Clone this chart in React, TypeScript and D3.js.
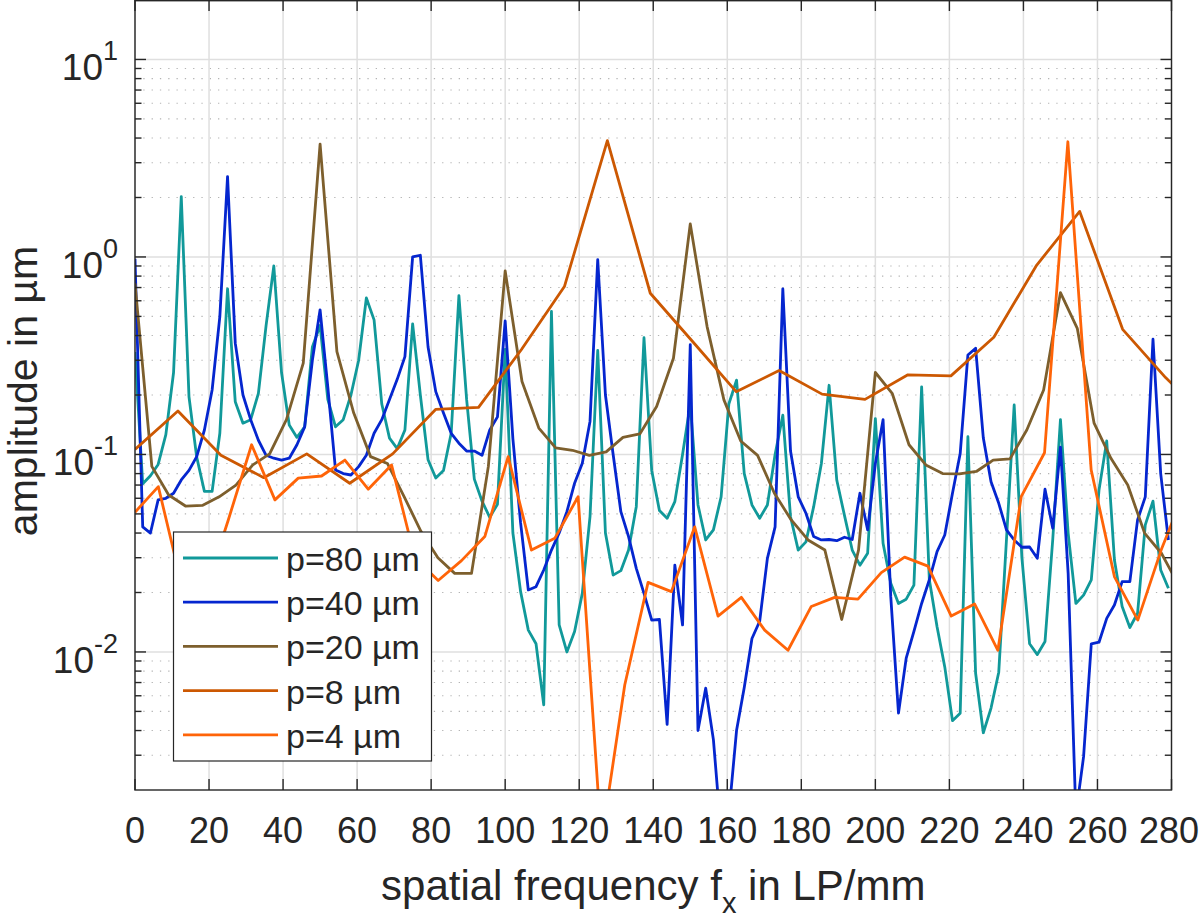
import * as d3 from 'd3';

// spectrum amplitudes, one array per pitch
const P80 = [
  0.33, 0.071, 0.078, 0.089, 0.126, 0.26, 2.02, 0.196, 0.097, 0.065,
  0.065, 0.128, 0.69, 0.185, 0.144, 0.15, 0.204, 0.45, 0.9, 0.26,
  0.141, 0.122, 0.138, 0.35, 0.45, 0.19, 0.138, 0.15, 0.2, 0.3,
  0.62, 0.48, 0.18, 0.121, 0.107, 0.133, 0.458, 0.2, 0.094, 0.076,
  0.083, 0.128, 0.637, 0.19, 0.075, 0.058, 0.048, 0.056, 0.34, 0.04,
  0.0202, 0.0129, 0.011, 0.0054, 0.53, 0.0137, 0.01, 0.0127, 0.0198, 0.0484,
  0.336, 0.04, 0.0245, 0.0258, 0.0328, 0.0544, 0.39, 0.083, 0.052, 0.0475,
  0.0577, 0.1, 0.18, 0.0555, 0.0369, 0.0415, 0.061, 0.18, 0.238, 0.08,
  0.0555, 0.0475, 0.0555, 0.1, 0.158, 0.0484, 0.0328, 0.0361, 0.0544, 0.09,
  0.224, 0.074, 0.049, 0.0328, 0.0275, 0.0316, 0.152, 0.0355, 0.0223, 0.0176,
  0.0185, 0.0218, 0.22, 0.0232, 0.0134, 0.0084, 0.00449, 0.0049, 0.123, 0.0078,
  0.0039, 0.0052, 0.0079, 0.037, 0.178, 0.03, 0.011, 0.0097, 0.0113, 0.037,
  0.15, 0.04, 0.0176, 0.0194, 0.0232, 0.066, 0.117, 0.0292, 0.017, 0.0133,
  0.0157, 0.044, 0.058, 0.026, 0.021
];

const P40 = [
  0.98, 0.043, 0.04, 0.0589, 0.06, 0.0636, 0.0743, 0.083, 0.0975, 0.133,
  0.212, 0.499, 2.55, 0.366, 0.2, 0.15, 0.118, 0.099, 0.0957, 0.0937,
  0.0957, 0.112, 0.138, 0.3, 0.54, 0.22, 0.0835, 0.08, 0.0787, 0.0868,
  0.099, 0.128, 0.15, 0.19, 0.24, 0.313, 1.0, 1.02, 0.35, 0.208,
  0.162, 0.128, 0.114, 0.104, 0.104, 0.099, 0.133, 0.155, 0.474, 0.12,
  0.045, 0.0206, 0.0214, 0.026, 0.0328, 0.04, 0.0513, 0.0715, 0.0902, 0.147,
  0.97, 0.2, 0.1, 0.0513, 0.0384, 0.0265, 0.0198, 0.0145, 0.0146, 0.0043,
  0.0275, 0.0137, 0.36, 0.004, 0.00655, 0.0036, 0.0012, 0.0015, 0.004, 0.0066,
  0.0117, 0.0143, 0.0298, 0.043, 0.69, 0.104, 0.061, 0.0504, 0.0384, 0.0369,
  0.0371, 0.0366, 0.0381, 0.0371, 0.0636, 0.0415, 0.09, 0.15, 0.019, 0.0049,
  0.0093, 0.0127, 0.0176, 0.0232, 0.0322, 0.0391, 0.0636, 0.101, 0.319, 0.345,
  0.121, 0.0728, 0.0566, 0.0415, 0.0369, 0.0339, 0.034, 0.0298, 0.0667, 0.0423,
  0.109, 0.025, 0.0015, 0.00295, 0.011, 0.0112, 0.0148, 0.0173, 0.0227, 0.0227,
  0.0466, 0.061, 0.383, 0.08, 0.0369
];

const P20 = [
  0.735, 0.087, 0.0623, 0.0548, 0.0552, 0.061, 0.07, 0.0885, 0.1007, 0.15,
  0.29, 3.73, 0.332, 0.162, 0.0975, 0.09, 0.061, 0.0407, 0.03, 0.025,
  0.025, 0.087, 0.85, 0.234, 0.136, 0.108, 0.105, 0.099, 0.103, 0.122,
  0.127, 0.175, 0.307, 1.47, 0.444, 0.189, 0.117, 0.099, 0.0636, 0.0466,
  0.0369, 0.0328, 0.0146, 0.0328, 0.26, 0.204, 0.112, 0.0885, 0.08, 0.0797,
  0.082, 0.0937, 0.095, 0.133, 0.212, 0.66, 0.435, 0.144, 0.0956, 0.07,
  0.04, 0.0316, 0.022
];

const P8 = [
  0.106, 0.166, 0.099, 0.0763, 0.1007, 0.0715, 0.1007, 0.169, 0.173, 0.34,
  0.708, 3.88, 0.655, 0.37, 0.208, 0.266, 0.202, 0.19, 0.253, 0.25,
  0.392, 0.91, 1.7, 0.43, 0.245, 0.15
];

const P4 = [
  0.051, 0.0687, 0.022, 0.02, 0.0466, 0.112, 0.0589, 0.0759, 0.0778, 0.0937,
  0.0667, 0.0885, 0.03, 0.023, 0.029, 0.0384, 0.0975, 0.0328, 0.0376, 0.0611,
  0.0011, 0.0068, 0.0225, 0.0202, 0.043, 0.0152, 0.0189, 0.0129, 0.0102, 0.017,
  0.0189, 0.0185, 0.0252, 0.0302, 0.0272, 0.0152, 0.0175, 0.0102, 0.0611, 0.102,
  3.83, 0.0835, 0.024, 0.0145, 0.0328, 0.065
];

// frequency sample spacing (LP/mm) of each spectrum
const DF = { p80: 12.5 / 6, p40: 12.5 / 6, p20: 50 / 11, p8: 11.6, p4: 6.3 };

const series = [
  { label: 'p=80 µm', color: '#11999a', df: DF.p80, values: P80 },
  { label: 'p=40 µm', color: '#0526cf', df: DF.p40, values: P40 },
  { label: 'p=20 µm', color: '#7d5f2d', df: DF.p20, values: P20 },
  { label: 'p=8 µm', color: '#cc5802', df: DF.p8, values: P8 },
  { label: 'p=4 µm', color: '#ff6408', df: DF.p4, values: P4 },
];

const xTicks = d3.range(0, 281, 20);
const yMajor = [0.01, 0.1, 1, 10];
const yExp = ['-2', '-1', '0', '1'];

const W = 1200;
const H = 920;
const L = 135, R = 1171.5, T = 0, B = 790;
const FONT = '"Liberation Sans", Arial, Helvetica, sans-serif';
const INK = '#262626';

const App = () => {
  const x = d3.scaleLinear().domain([0, 280]).range([L, R]);
  const y = d3.scaleLog().domain([0.002, 20]).range([B, T]);

  const yMinor: number[] = [];
  [-3, -2, -1, 0, 1].forEach(e => {
    for (let k = 2; k <= 9; k++) {
      const v = k * Math.pow(10, e);
      if (v > 0.002 && v < 20) yMinor.push(v);
    }
  });

  const line = d3.line<[number, number]>()
    .x(d => x(d[0]))
    .y(d => y(d[1]));

  const legendX = 173.5, legendY = 532, legendW = 258, legendH = 229;
  const rowH = 44.2;
  const lastTick = xTicks[xTicks.length - 1];

  return (
    <svg width={W} height={H} style={{ position: 'absolute', left: 0, top: 0, background: '#fff' }}
      fontFamily={FONT}>
      <defs>
        <clipPath id="plotClip">
          <rect x={L} y={T} width={R - L} height={B - T} />
        </clipPath>
      </defs>
      <rect x={L} y={T} width={R - L} height={B - T} fill="#fff" />

      {/* minor grid (y only, dotted) */}
      {yMinor.map((v, i) => (
        <line key={'mn' + i} x1={L} x2={R} y1={y(v)} y2={y(v)}
          stroke="#b4b4b4" strokeWidth={1.1} strokeDasharray="1.3 7" />
      ))}
      {/* major grid */}
      {xTicks.map(t => (
        <line key={'gx' + t} x1={x(t)} x2={x(t)} y1={T} y2={B} stroke="#dfdfdf" strokeWidth={1.5} />
      ))}
      {yMajor.map(v => (
        <line key={'gy' + v} x1={L} x2={R} y1={y(v)} y2={y(v)} stroke="#dfdfdf" strokeWidth={1.5} />
      ))}

      {/* data */}
      <g clipPath="url(#plotClip)">
        {series.map(s => (
          <path key={s.label}
            d={line(s.values.map((v, i) => [i * s.df, v] as [number, number])) || ''}
            fill="none" stroke={s.color} strokeWidth={2.8} strokeLinejoin="round" />
        ))}
      </g>

      {/* box and ticks */}
      <rect x={L} y={T + 0.7} width={R - L} height={B - T - 0.7} fill="none" stroke={INK} strokeWidth={1.4} />
      {xTicks.map(t => (
        <g key={'tx' + t}>
          <line x1={x(t)} x2={x(t)} y1={B} y2={B - 11} stroke={INK} strokeWidth={1.4} />
          <line x1={x(t)} x2={x(t)} y1={T} y2={T + 11} stroke={INK} strokeWidth={1.4} />
          {t === lastTick
            ? <text x={W - 1} y={843} textAnchor="end" fontSize={36} fill={INK}>{t}</text>
            : <text x={x(t)} y={843} textAnchor="middle" fontSize={36} fill={INK}>{t}</text>}
        </g>
      ))}
      {yMajor.map((v, i) => (
        <g key={'ty' + v}>
          <line x1={L} x2={L + 11} y1={y(v)} y2={y(v)} stroke={INK} strokeWidth={1.4} />
          <line x1={R} x2={R - 11} y1={y(v)} y2={y(v)} stroke={INK} strokeWidth={1.4} />
          <text x={118} y={y(v) + 21} textAnchor="end" fontSize={37} fill={INK}>
            10<tspan dy={-20} fontSize={27}>{yExp[i]}</tspan>
          </text>
        </g>
      ))}
      {yMinor.map((v, i) => (
        <g key={'tm' + i}>
          <line x1={L} x2={L + 6.5} y1={y(v)} y2={y(v)} stroke={INK} strokeWidth={1.4} />
          <line x1={R} x2={R - 6.5} y1={y(v)} y2={y(v)} stroke={INK} strokeWidth={1.4} />
        </g>
      ))}

      {/* axis labels */}
      <text x={(L + R) / 2} y={900} textAnchor="middle" fontSize={42} fill={INK}>
        spatial frequency f<tspan dy={13} fontSize={29}>x</tspan><tspan dy={-13}> in LP/mm</tspan>
      </text>
      <text transform="translate(37, 391) rotate(-90)" textAnchor="middle" fontSize={41} fill={INK}>
        amplitude in µm
      </text>

      {/* legend */}
      <rect x={legendX} y={legendY} width={legendW} height={legendH} fill="#fff" stroke={INK} strokeWidth={1.2} />
      {series.map((s, i) => {
        const cy = 558 + i * rowH;
        return (
          <g key={'lg' + s.label}>
            <line x1={183} x2={278} y1={cy} y2={cy} stroke={s.color} strokeWidth={2.8} />
            <text x={286} y={cy + 13} fontSize={34} fill={INK}>{s.label}</text>
          </g>
        );
      })}
    </svg>
  );
};

export default App;
